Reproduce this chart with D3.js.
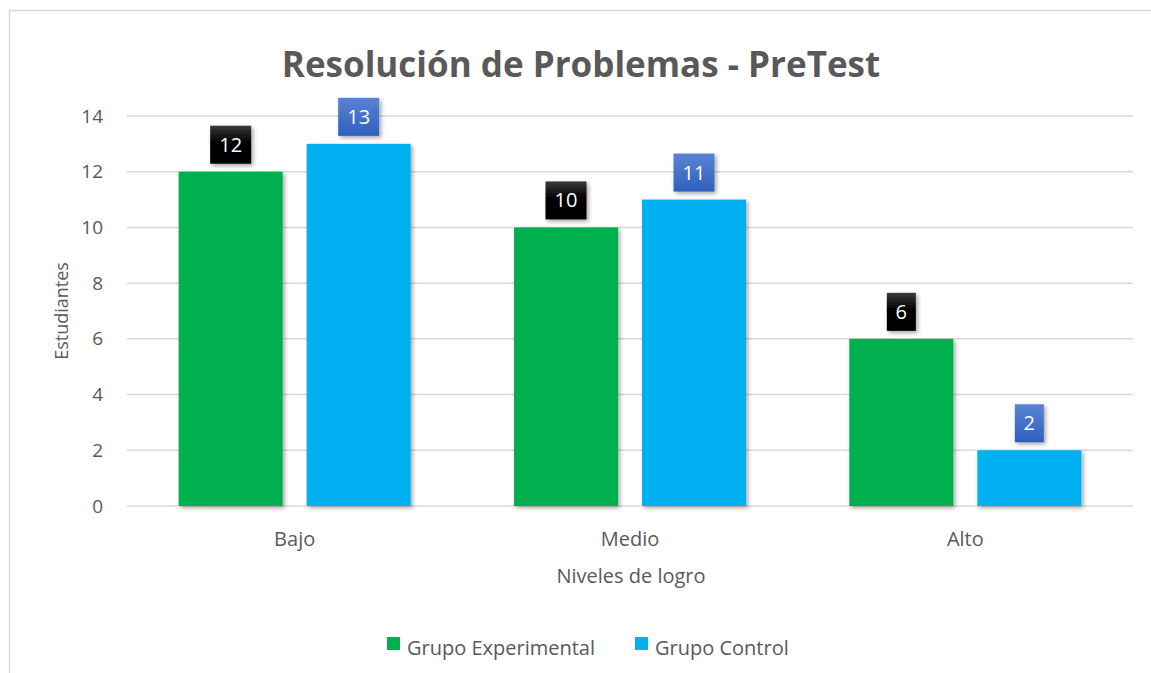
<!DOCTYPE html>
<html lang="es">
<head>
<meta charset="UTF-8">
<title>Resolución de Problemas - PreTest</title>
<script src="https://cdn.jsdelivr.net/npm/d3@7"></script>
<style>
  body { margin: 0; background: #fff; }
  svg text { font-family: "Open Sans", Lato, sans-serif; }
</style>
</head>
<body>
<svg id="chart"></svg>
<script>
// datos del gráfico
var categorias = ["Bajo", "Medio", "Alto"];
var series = ["Grupo Experimental", "Grupo Control"];
var experimental = [12, 10, 6];
var control = [13, 11, 2];
var ticksY = [0, 2, 4, 6, 8, 10, 12, 14];
var colores = ["#00B050", "#00B0F0"];

var width = 1151, height = 673;
var margin = { top: 116, right: 18, bottom: 167, left: 127 };
var iw = width - margin.left - margin.right;
var ih = height - margin.top - margin.bottom;
var fuente = "'Open Sans', Lato, sans-serif";

var svg = d3.select("#chart").attr("width", width).attr("height", height);

// sombras y degradados
var defs = svg.append("defs");
var sh = defs.append("filter").attr("id", "sombra")
  .attr("x", "-20%").attr("y", "-20%").attr("width", "140%").attr("height", "140%");
sh.append("feDropShadow").attr("dx", 2).attr("dy", 2).attr("stdDeviation", 2)
  .attr("flood-color", "#000").attr("flood-opacity", 0.35);

var gNegro = defs.append("linearGradient").attr("id", "gNegro").attr("x1", 0).attr("y1", 0).attr("x2", 0).attr("y2", 1);
gNegro.append("stop").attr("offset", "0%").attr("stop-color", "#3a3a3a");
gNegro.append("stop").attr("offset", "45%").attr("stop-color", "#000");
gNegro.append("stop").attr("offset", "100%").attr("stop-color", "#000");
var gAzul = defs.append("linearGradient").attr("id", "gAzul").attr("x1", 0).attr("y1", 0).attr("x2", 0).attr("y2", 1);
gAzul.append("stop").attr("offset", "0%").attr("stop-color", "#5a84d2");
gAzul.append("stop").attr("offset", "100%").attr("stop-color", "#2f5fbd");

// marco
svg.append("rect").attr("x", 9.5).attr("y", 10.5).attr("width", 1200).attr("height", 700)
  .attr("fill", "none").attr("stroke", "#d9d9d9").attr("stroke-width", 1.5);

var g = svg.append("g").attr("transform", "translate(" + margin.left + "," + margin.top + ")");

var y = d3.scaleLinear().domain([0, 14]).range([ih, 0]);
var x0 = d3.scaleBand().domain(categorias).range([0, iw]);
// dos barras de 104 px con 24 px entre ellas
var x1 = d3.scaleBand().domain(series).range([0, 232]).paddingInner(0.1875);

// lineas de cuadricula
g.selectAll(".grid").data(ticksY).enter().append("line")
  .attr("x1", 0).attr("x2", iw)
  .attr("y1", d => y(d)).attr("y2", d => y(d))
  .attr("stroke", "#d9d9d9").attr("stroke-width", 1.5);

// eje Y
var ejeY = g.append("g").call(d3.axisLeft(y).tickValues(ticksY).tickSize(0).tickPadding(24));
ejeY.select(".domain").remove();
ejeY.selectAll("text").attr("font-size", 19).attr("fill", "#595959").style("font-family", fuente);

// eje X
var ejeX = g.append("g").attr("transform", "translate(0," + ih + ")")
  .call(d3.axisBottom(x0).tickSize(0).tickPadding(26));
ejeX.select(".domain").remove();
ejeX.selectAll("text").attr("font-size", 20).attr("fill", "#595959").style("font-family", fuente);

var datos = categorias.map((c, i) => ({ cat: c, vals: [experimental[i], control[i]] }));

var grupos = g.selectAll(".cat").data(datos).enter().append("g")
  .attr("transform", d => "translate(" + (x0(d.cat) + x0.bandwidth() / 2 - 116) + ",0)");

grupos.selectAll("rect.barra").data(d => d.vals.map((v, j) => ({ s: series[j], v: v, j: j })))
  .enter().append("rect").attr("class", "barra")
  .attr("x", d => x1(d.s)).attr("width", x1.bandwidth())
  .attr("y", d => y(d.v)).attr("height", d => ih - y(d.v))
  .attr("fill", d => colores[d.j])
  .attr("filter", "url(#sombra)");

// etiquetas de datos
var etiquetas = grupos.selectAll("g.etq").data(d => d.vals.map((v, j) => ({ s: series[j], v: v, j: j })))
  .enter().append("g").attr("class", "etq")
  .attr("transform", d => "translate(" + (x1(d.s) + x1.bandwidth() / 2) + "," + (y(d.v) - 8) + ")");
etiquetas.append("rect")
  .attr("x", d => -(String(d.v).length * 12 + 17) / 2)
  .attr("width", d => String(d.v).length * 12 + 17)
  .attr("y", -38).attr("height", 38)
  .attr("fill", d => d.j === 0 ? "url(#gNegro)" : "url(#gAzul)")
  .attr("filter", "url(#sombra)");
etiquetas.append("text")
  .attr("text-anchor", "middle").attr("y", -12)
  .attr("font-size", 20).attr("fill", "#fff")
  .text(d => d.v);

// titulos
svg.append("text").attr("x", 581).attr("y", 77).attr("text-anchor", "middle")
  .attr("font-size", 35).attr("font-weight", "bold").attr("fill", "#595959")
  .text("Resolución de Problemas - PreTest");

svg.append("text").attr("transform", "translate(68," + (margin.top + ih / 2) + ") rotate(-90)")
  .attr("text-anchor", "middle").attr("font-size", 18).attr("fill", "#595959")
  .text("Estudiantes");

svg.append("text").attr("x", 631).attr("y", 583).attr("text-anchor", "middle")
  .attr("font-size", 20).attr("fill", "#595959")
  .text("Niveles de logro");

// leyenda
var leyX = [387, 635];
var ley = svg.selectAll(".ley").data(series).enter().append("g")
  .attr("transform", (d, i) => "translate(" + leyX[i] + ",637)");
ley.append("rect").attr("width", 13).attr("height", 13).attr("fill", (d, i) => colores[i]);
ley.append("text").attr("x", 20).attr("y", 18).attr("font-size", 20).attr("fill", "#595959").text(d => d);
</script>
</body>
</html>
